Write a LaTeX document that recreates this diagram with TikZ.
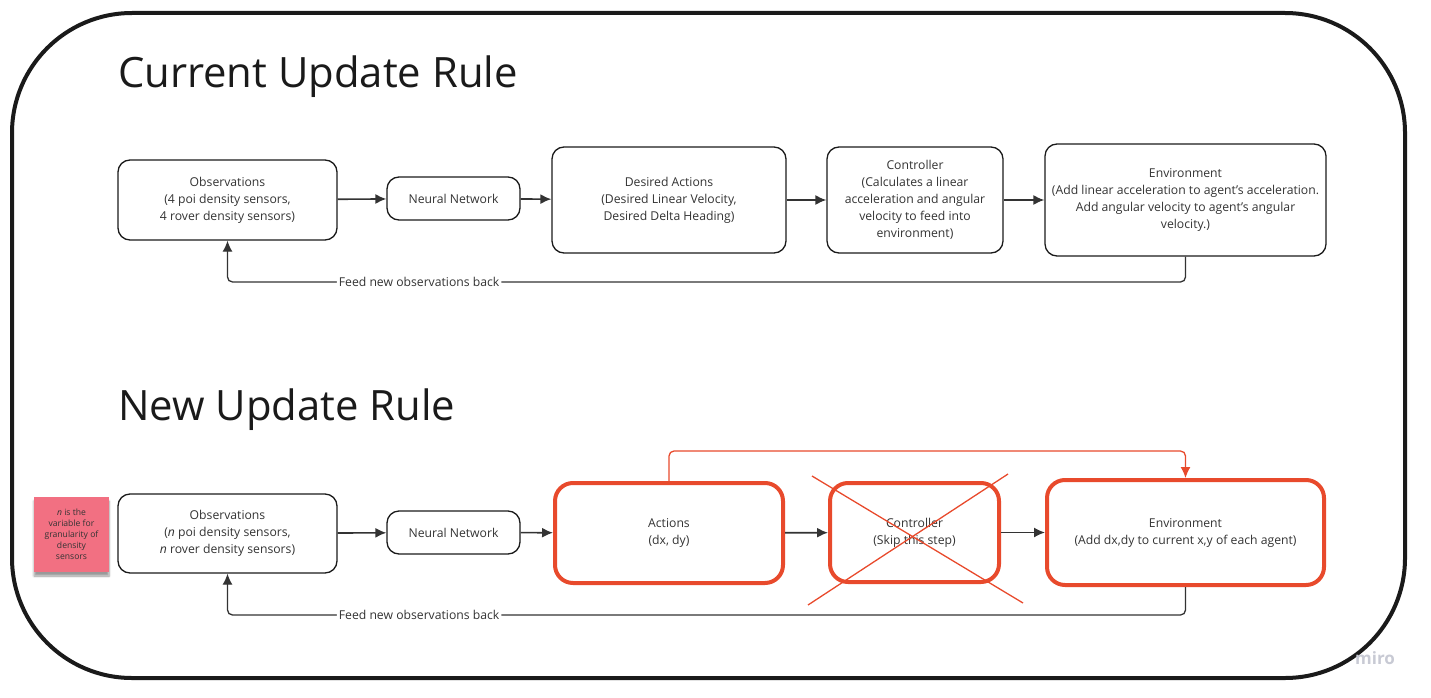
\documentclass[tikz,border=0pt]{standalone}
\usepackage{fontspec}
\setmainfont{Open Sans}
\usepackage{xcolor}
\usetikzlibrary{shadows.blur,arrows.meta}
\definecolor{framing}{RGB}{26,26,26}
\definecolor{boxtext}{RGB}{51,51,51}
\definecolor{flowgray}{RGB}{51,51,51}
\definecolor{skipred}{RGB}{232,74,44}
\definecolor{sticky}{RGB}{242,112,130}
\definecolor{watermark}{RGB}{200,202,212}
\newcommand{\boxfont}{\fontsize{12.2}{17}\selectfont}
\tikzstyle{step box}=[draw=framing, line width=1.3pt, rounded corners=12pt, align=center, text=boxtext, font=\boxfont, inner sep=0pt]
\tikzstyle{red box}=[step box, draw=skipred, line width=4pt, rounded corners=18pt]
\tikzstyle{flow}=[-{Latex[length=11pt,width=10pt]}, line width=1.6pt, color=flowgray]
\tikzstyle{feedback}=[-{Latex[length=11pt,width=10pt]}, line width=1.3pt, color=flowgray, rounded corners=5pt]
\tikzstyle{title}=[anchor=base west, inner sep=0pt, text=framing, font=\fontsize{41.8}{48}\selectfont]

\begin{document}
\begin{tikzpicture}[x=1pt, y=-1pt]
  \useasboundingbox (0,0) rectangle (1431,698);
  \draw[framing, line width=4pt, rounded corners=120pt] (12,13) rectangle (1405,678);

  %% Current rule
  \draw (118,88) node[title] (TitleCur) {Current Update Rule};
  \draw (227.5,200) node[step box, minimum width=219, minimum height=80] (Obs1) {Observations\\(4 poi density sensors,\\4 rover density sensors)};
  \draw (453.5,198.5) node[step box, minimum width=133, minimum height=43] (NN1) {Neural Network};
  \draw (669,200) node[step box, minimum width=234, minimum height=106] (DA1) {Desired Actions\\(Desired Linear Velocity,\\Desired Delta Heading)};
  \draw (915,200) node[step box, minimum width=176, minimum height=106] (C1) {Controller\\(Calculates a linear\\acceleration and angular\\velocity to feed into\\environment)};
  \draw (1185.5,200) node[step box, minimum width=281, minimum height=112] (E1) {Environment\\(Add linear acceleration to agent's acceleration.\\Add angular velocity to agent's angular\\velocity.)};

  \draw[flow] (Obs1) -- (NN1);
  \draw[flow] (NN1) -- (DA1);
  \draw[flow] (DA1) -- (C1);
  \draw[flow] (C1) -- (E1);
  \draw[feedback] (E1.south) -- (E1.south |- 0,282) -| node[pos=.4, fill=white, inner sep=2pt, text=boxtext, font=\fontsize{12.2}{14}\selectfont]{Feed new observations back} (Obs1.south);

  %% New rule
  \draw (118,420) node[title] (TitleNew) {New Update Rule};
  \draw (71.5,534.5) node[fill=sticky, minimum size=75, inner sep=0pt, align=center, text=boxtext, font=\fontsize{8.6}{11}\selectfont, blur shadow={shadow xshift=0pt, shadow yshift=-4pt, shadow blur steps=6}] (Note) {\textit{n} is the\\variable for\\granularity of\\density\\sensors};
  \draw (227.5,533.5) node[step box, minimum width=219, minimum height=79] (Obs2) {Observations\\(\textit{n} poi density sensors,\\\textit{n} rover density sensors)};
  \draw (453.5,532.5) node[step box, minimum width=133, minimum height=43] (NN2) {Neural Network};
  \draw (669,533) node[red box, minimum width=228, minimum height=100] (A2) {Actions\\(dx, dy)};
  \draw (914.5,532.5) node[red box, minimum width=169, minimum height=99] (C2) {Controller\\(Skip this step)};
  \draw (1185.5,532.5) node[red box, minimum width=277, minimum height=105] (E2) {Environment\\(Add dx,dy to current x,y of each agent)};

  \draw[flow] (Obs2) -- (NN2);
  \draw[flow] (NN2) -- (A2);
  \draw[flow] (A2) -- (C2);
  \draw[flow] (C2) -- (E2);
  \draw[feedback] (E2.south) -- (E2.south |- 0,615) -| node[pos=.4, fill=white, inner sep=2pt, text=boxtext, font=\fontsize{12.2}{14}\selectfont]{Feed new observations back} (Obs2.south);
  \draw[feedback, color=skipred] (A2.north) -- (A2.north |- 0,451) -| (E2.north);

  %% Skipped controller
  \draw[skipred, line width=1.3pt] (808,605) -- (1008,474);
  \draw[skipred, line width=1.3pt] (812,476) -- (1023,603);

  \draw (1375,658) node[text=watermark, font=\fontsize{17}{20}\selectfont\bfseries] (Miro) {miro};
\end{tikzpicture}
\end{document}
